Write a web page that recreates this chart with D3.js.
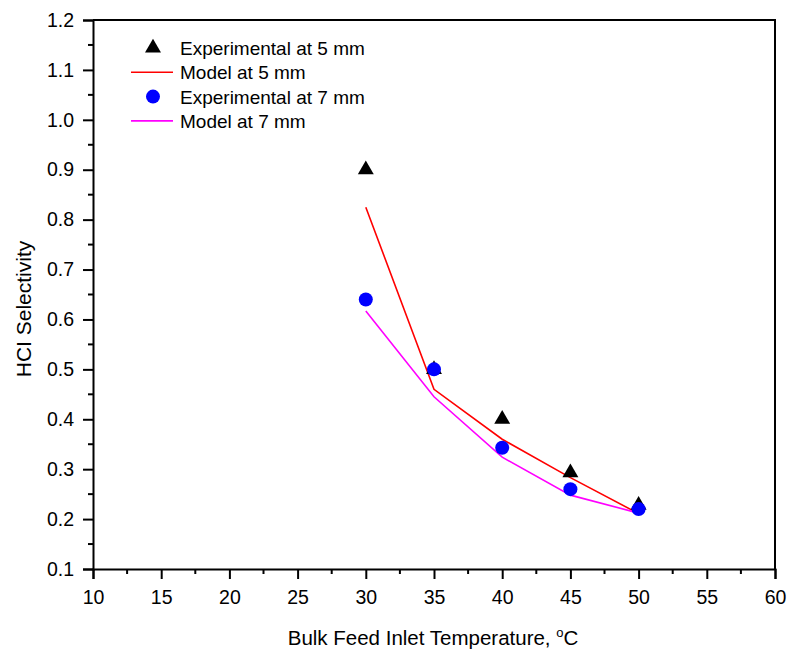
<html>
<head>
<script src="https://d3js.org/d3.v7.min.js"></script>
<style>
  body { margin: 0; background: #fff; }
  text { font-family: "Liberation Sans", Arial, sans-serif; fill: #000; }
</style>
</head>
<body>
<svg id="chart" width="789" height="649"></svg>
<script>
// data
const temps = [30, 35, 40, 45, 50];
const exp5 = [0.90, 0.50, 0.40, 0.293, 0.228];
const model5 = [0.825, 0.46, 0.36, 0.283, 0.211];
const exp7 = [0.64, 0.50, 0.343, 0.26, 0.22];
const model7 = [0.617, 0.445, 0.324, 0.248, 0.212];

const xTicks = [10, 15, 20, 25, 30, 35, 40, 45, 50, 55, 60];
const yTicks = [0.1, 0.2, 0.3, 0.4, 0.5, 0.6, 0.7, 0.8, 0.9, 1.0, 1.1, 1.2];

const legendItems = [
    { label: "Experimental at 5 mm", type: "tri" },
    { label: "Model at 5 mm", type: "line", color: "#ff0000" },
    { label: "Experimental at 7 mm", type: "dot" },
    { label: "Model at 7 mm", type: "line", color: "#ff00ff" }
];

const svg = d3.select("#chart");
const mLeft = 93, mRight = 775, mTop = 20, mBottom = 569;
const fontFam = "Liberation Sans, Arial, sans-serif";

const x = d3.scaleLinear().domain([10, 60]).range([mLeft, mRight]);
const y = d3.scaleLinear().domain([0.1, 1.2]).range([mBottom, mTop]);

// minor ticks
const xMinor = d3.range(12.5, 60, 5);
const yMinor = d3.range(0.15, 1.2, 0.1);

svg.append("g").selectAll("line").data(xMinor).join("line")
    .attr("x1", d => x(d)).attr("x2", d => x(d))
    .attr("y1", mBottom).attr("y2", mBottom + 5)
    .attr("stroke", "#000").attr("stroke-width", 2);
svg.append("g").selectAll("line").data(yMinor).join("line")
    .attr("y1", d => y(d)).attr("y2", d => y(d))
    .attr("x1", mLeft).attr("x2", mLeft - 5)
    .attr("stroke", "#000").attr("stroke-width", 2);

// x axis
const xAxis = svg.append("g")
    .attr("transform", `translate(0,${mBottom})`)
    .call(d3.axisBottom(x).tickValues(xTicks).tickSize(10).tickPadding(11).tickFormat(d3.format("d")));
xAxis.select(".domain").attr("stroke-width", 2);
xAxis.selectAll(".tick line").attr("stroke-width", 2);
xAxis.selectAll("text").style("font-size", "19.5px").style("font-family", fontFam);

// y axis
const yAxis = svg.append("g")
    .attr("transform", `translate(${mLeft},0)`)
    .call(d3.axisLeft(y).tickValues(yTicks).tickSize(10).tickPadding(9).tickFormat(d3.format(".1f")));
yAxis.select(".domain").attr("stroke-width", 2);
yAxis.selectAll(".tick line").attr("stroke-width", 2);
yAxis.selectAll("text").style("font-size", "19.5px").style("font-family", fontFam);

// top + right frame
svg.append("path")
    .attr("d", `M${mLeft},${mTop}H${mRight}V${mBottom}`)
    .attr("fill", "none").attr("stroke", "#000").attr("stroke-width", 2);

// axis titles
const xt = svg.append("text")
    .attr("x", 433).attr("y", 645)
    .attr("text-anchor", "middle").style("font-size", "20.5px")
    .text("Bulk Feed Inlet Temperature, ");
xt.append("tspan").attr("dy", -8).style("font-size", "13px").text("o");
xt.append("tspan").attr("dy", 8).text("C");

svg.append("text")
    .attr("transform", `translate(31,309) rotate(-90)`)
    .attr("text-anchor", "middle").style("font-size", "21px")
    .text("HCI Selectivity");

// model lines
const line = d3.line().x((d, i) => x(temps[i])).y(d => y(d));
svg.append("path").datum(model5).attr("d", line)
    .attr("fill", "none").attr("stroke", "#ff0000").attr("stroke-width", 1.6);
svg.append("path").datum(model7).attr("d", line)
    .attr("fill", "none").attr("stroke", "#ff00ff").attr("stroke-width", 1.6);

// experimental points
const tri = d3.symbol().type(d3.symbolTriangle).size(110);
svg.append("g").selectAll("path").data(exp5).join("path")
    .attr("d", tri)
    .attr("transform", (d, i) => `translate(${x(temps[i])},${y(d)})`)
    .attr("fill", "#000");
svg.append("g").selectAll("circle").data(exp7).join("circle")
    .attr("cx", (d, i) => x(temps[i])).attr("cy", d => y(d))
    .attr("r", 7).attr("fill", "#0000ff");

// legend
const lg = svg.append("g").selectAll("g").data(legendItems).join("g")
    .attr("transform", (d, i) => `translate(0,${48 + i * 24.3})`);
lg.filter(d => d.type === "tri").append("path")
    .attr("d", tri).attr("transform", "translate(153,0)").attr("fill", "#000");
lg.filter(d => d.type === "dot").append("circle")
    .attr("cx", 153).attr("cy", 0).attr("r", 7).attr("fill", "#0000ff");
lg.filter(d => d.type === "line").append("line")
    .attr("x1", 131).attr("x2", 173).attr("y1", 0).attr("y2", 0)
    .attr("stroke", d => d.color).attr("stroke-width", 1.6);
lg.append("text")
    .attr("x", 180).attr("y", 7).style("font-size", "19px")
    .text(d => d.label);
</script>
</body>
</html>
